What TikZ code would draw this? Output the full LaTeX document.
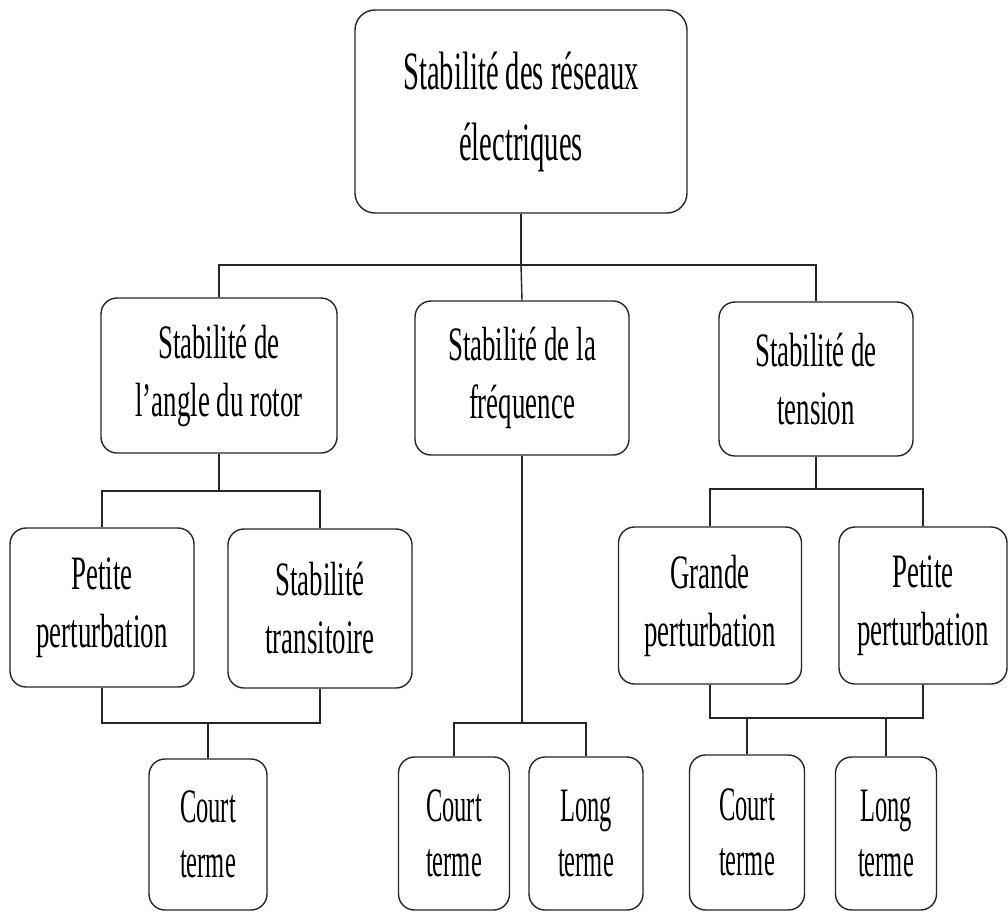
\documentclass[tikz,border=0pt]{standalone}
\usepackage{fontspec}
\setmainfont{Liberation Serif}
\newfontfamily\fmid[FakeStretch=0.56]{Liberation Serif}
\newfontfamily\ftop[FakeStretch=0.53]{Liberation Serif}
\newfontfamily\fbot[FakeStretch=0.51]{Liberation Serif}
\begin{document}
\begin{tikzpicture}[x=1pt,y=-1pt,
  box/.style={draw=black!85, line width=1.4pt, rounded corners=16pt, inner sep=0pt, align=center, fill=white},
  topbox/.style={box, rounded corners=20pt, font=\ftop\fontsize{54}{71}\selectfont},
  midbox/.style={box, font=\fmid\fontsize{48}{58}\selectfont},
  botbox/.style={box, font=\fbot\fontsize{48}{55}\selectfont},
  conn/.style={draw=black!85, line width=1.4pt}]
\useasboundingbox (0,0) rectangle (1008,913);

% nodes
\node[topbox, minimum width=332pt, minimum height=203pt] (top) at (521,111.5) {Stabilité des réseaux\\électriques};

\node[midbox, minimum width=236pt, minimum height=155pt] (rot) at (219,375.5) {Stabilité de\\l’angle du rotor};
\node[midbox, minimum width=214pt, minimum height=154pt] (freq) at (522,378) {Stabilité de la\\fréquence};
\node[midbox, minimum width=194pt, minimum height=154pt] (tens) at (816,379) {Stabilité de\\tension};

\node[midbox, minimum width=184pt, minimum height=159pt] (pet1) at (102,607.5) {Petite\\perturbation};
\node[midbox, minimum width=184pt, minimum height=159pt] (trans) at (320,608.5) {Stabilité\\transitoire};
\node[midbox, minimum width=183pt, minimum height=157pt] (grande) at (710,605.5) {Grande\\perturbation};
\node[midbox, minimum width=168pt, minimum height=157pt] (pet2) at (923,605.5) {Petite\\perturbation};

\node[botbox, minimum width=118pt, minimum height=151pt] (court1) at (208,834.5) {Court\\terme};
\node[botbox, minimum width=111pt, minimum height=153pt] (court2) at (454,833.5) {Court\\terme};
\node[botbox, minimum width=114pt, minimum height=153pt] (long2) at (586,833.5) {Long\\terme};
\node[botbox, minimum width=115pt, minimum height=155pt] (court3) at (747,832.5) {Court\\terme};
\node[botbox, minimum width=101pt, minimum height=153pt] (long3) at (886,833.5) {Long\\terme};

% buses
\coordinate (b1) at (521,265);
\coordinate (b2) at (219,491);
\coordinate (b3) at (208,723);
\coordinate (b4) at (522,723);
\coordinate (b5) at (816,489);
\coordinate (b6) at (747,718);
\coordinate (b7) at (886,718);

\draw[conn] (top.south) -- (b1);
\draw[conn] (rot.north) |- (b1) -| (tens.north);
\draw[conn] (b1) -- (freq.north);

\draw[conn] (rot.south) -- (b2);
\draw[conn] (pet1.north) |- (b2) -| (trans.north);
\draw[conn] (pet1.south) |- (b3) -| (trans.south);
\draw[conn] (b3) -- (court1.north);

\draw[conn] (freq.south) -- (b4);
\draw[conn] (court2.north) |- (b4) -| (long2.north);

\draw[conn] (tens.south) -- (b5);
\draw[conn] (grande.north) |- (b5) -| (pet2.north);
\draw[conn] (grande.south) |- (b6) -- (b7) -| (pet2.south);
\draw[conn] (b6) -- (court3.north);
\draw[conn] (b7) -- (long3.north);
\end{tikzpicture}
\end{document}
